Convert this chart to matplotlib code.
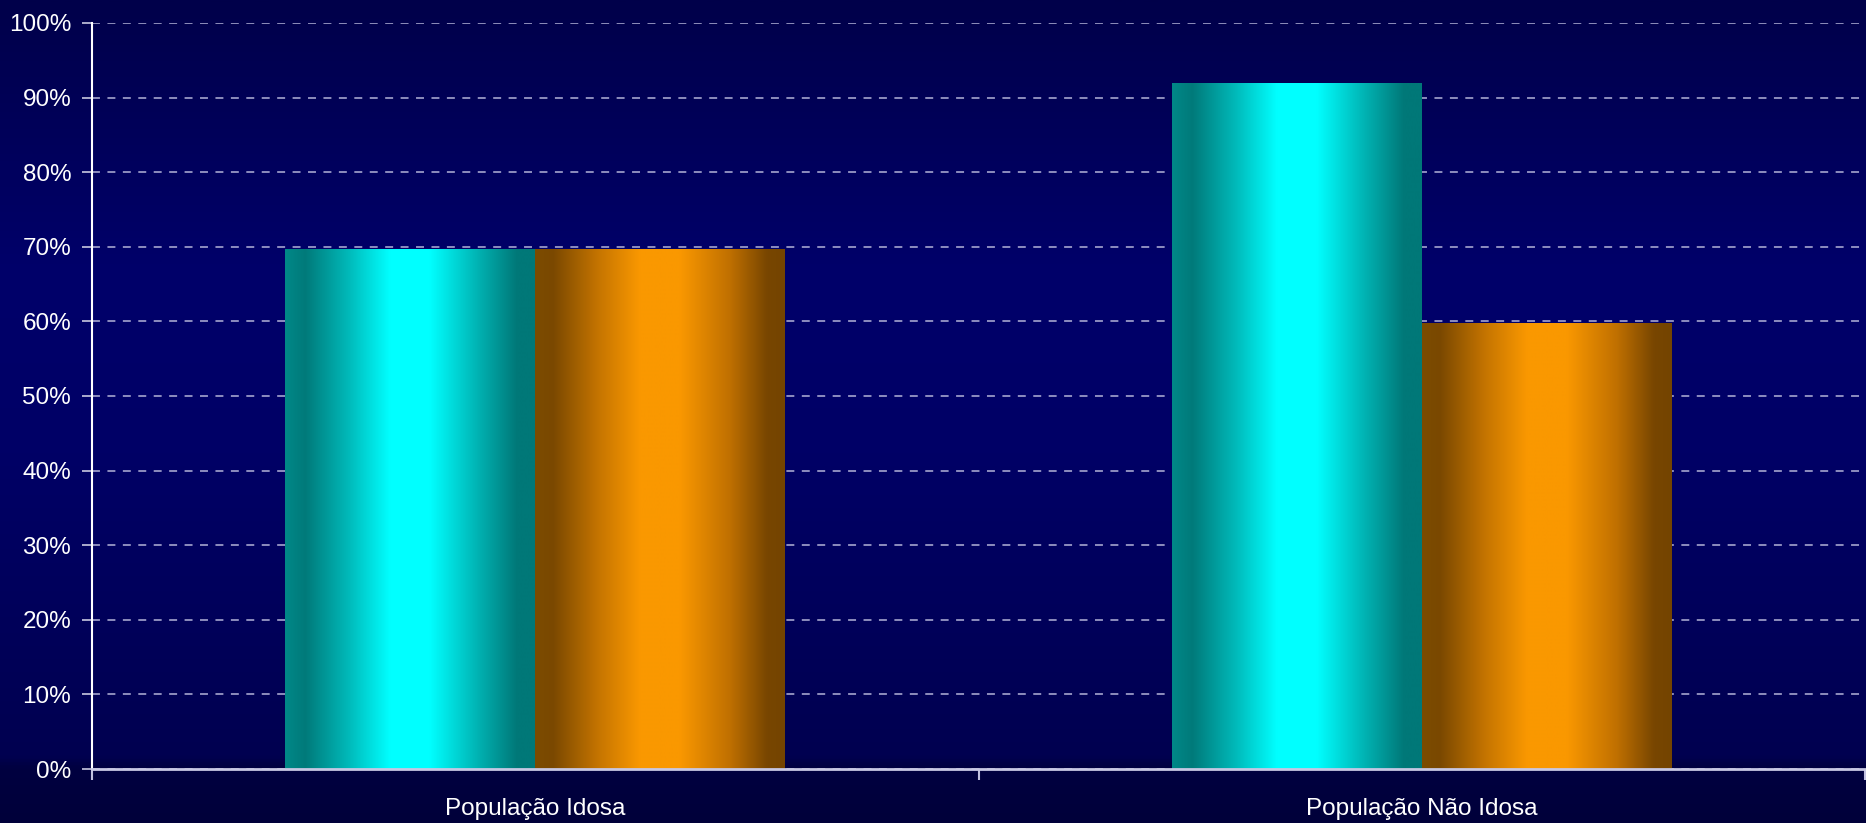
import numpy as np
import matplotlib
matplotlib.use("Agg")
import matplotlib.pyplot as plt
from matplotlib.colors import LinearSegmentedColormap
from matplotlib.ticker import PercentFormatter, FixedLocator

categories = ["População Idosa", "População Não Idosa"]
series_cyan = [0.697, 0.92]
series_orange = [0.697, 0.598]
y_ticks = [0.0, 0.1, 0.2, 0.3, 0.4, 0.5, 0.6, 0.7, 0.8, 0.9, 1.0]

W, H = 1866, 823
fig = plt.figure(figsize=(W / 100, H / 100), dpi=100)

# background vertical gradient (top -> bottom)
bg = fig.add_axes([0, 0, 1, 1], zorder=0)
bg.set_axis_off()
bg_cmap = LinearSegmentedColormap.from_list(
    "bg", [(0.0, "#00004a"), (0.33, "#00006a"), (0.55, "#000066"), (0.92, "#000050"),
           (0.935, "#000040"), (1.0, "#00003a")])
grad = np.linspace(0, 1, 512).reshape(-1, 1)
bg.imshow(grad, aspect="auto", cmap=bg_cmap, extent=[0, 1, 0, 1], origin="upper")
bg.set_xlim(0, 1)
bg.set_ylim(0, 1)

ax = fig.add_axes([92 / W, 1 - 769 / H, (1865 - 92) / W, (769 - 23) / H], zorder=1)
ax.patch.set_alpha(0)

x = np.arange(len(categories))
width = 0.282
bars_c = ax.bar(x - width / 2, series_cyan, width, color="none", zorder=2)
bars_o = ax.bar(x + width / 2, series_orange, width, color="none", zorder=2)

cyan_cmap = LinearSegmentedColormap.from_list(
    "cy", [(0.0, "#008888"), (0.08, "#007a7a"), (0.25, "#00b8b8"), (0.42, "#00ffff"),
           (0.58, "#00ffff"), (0.78, "#00b0b0"), (0.93, "#007878"), (1.0, "#007878")])
orange_cmap = LinearSegmentedColormap.from_list(
    "or", [(0.0, "#7c4c00"), (0.07, "#7a4800"), (0.25, "#c47400"), (0.42, "#fa9800"),
           (0.58, "#fa9800"), (0.78, "#c07000"), (0.93, "#784600"), (1.0, "#744400")])
hgrad = np.linspace(0, 1, 256).reshape(1, -1)

for bars, cmap in ((bars_c, cyan_cmap), (bars_o, orange_cmap)):
    for b in bars:
        x0, y0 = b.get_x(), b.get_y()
        w, h = b.get_width(), b.get_height()
        im = ax.imshow(hgrad, aspect="auto", cmap=cmap, extent=[x0, x0 + w, y0, y0 + h],
                       origin="lower", zorder=2, interpolation="bilinear")
        im.set_clip_path(b)

ax.set_xlim(-0.5, 1.5)
ax.set_ylim(0, 1.0)
ax.set_aspect("auto")

# y axis
ax.yaxis.set_major_locator(FixedLocator(y_ticks))
ax.yaxis.set_major_formatter(PercentFormatter(1.0, decimals=0))
ax.tick_params(axis="y", colors="#c8c8e0", length=7, width=1.2, labelcolor="white",
               labelsize=17.5, pad=8)
ax.grid(axis="y", color="#b4b4d8", linestyle=(0, (5.2, 4.9)), linewidth=1.1, zorder=1)
ax.set_axisbelow(True)

# x axis
ax.set_xticks(x)
ax.set_xticklabels(categories)
ax.set_xticks([-0.5, 0.5, 1.5], minor=True)
ax.tick_params(axis="x", which="major", length=0, labelcolor="white", labelsize=17.5, pad=21)
ax.tick_params(axis="x", which="minor", length=8, width=1.5, color="#c0c0e0")

for s in ("top", "right"):
    ax.spines[s].set_visible(False)
ax.spines["left"].set_color("white")
ax.spines["left"].set_linewidth(1.5)
ax.spines["bottom"].set_color("#c8c8e4")
ax.spines["bottom"].set_linewidth(2)

plt.rcParams["font.family"] = ["Liberation Sans", "DejaVu Sans"]
for t in ax.get_xticklabels() + ax.get_yticklabels():
    t.set_fontfamily(["Liberation Sans", "DejaVu Sans"])

fig.savefig("out.png", dpi=100)
